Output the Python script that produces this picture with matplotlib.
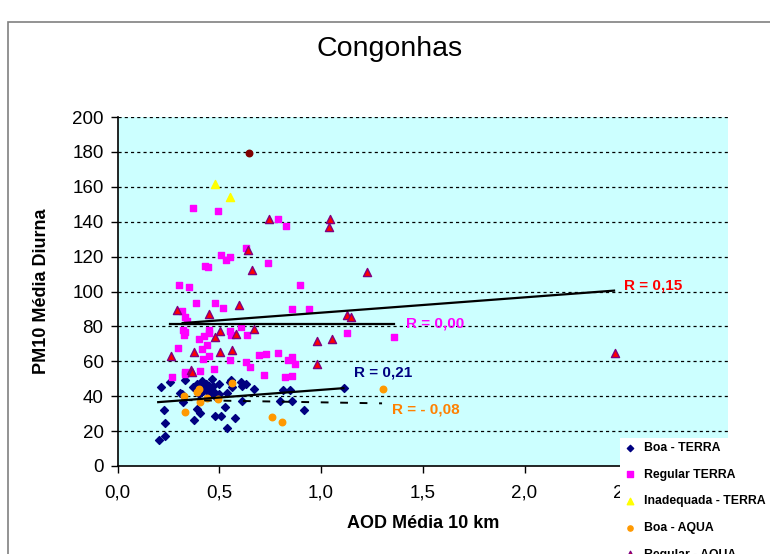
import matplotlib
matplotlib.use('Agg')
import matplotlib.pyplot as plt
from matplotlib.patches import Rectangle

plt.rcParams['font.family'] = ['Liberation Sans', 'DejaVu Sans']

# Boa - TERRA
boa_terra_x = [0.216, 0.257, 0.333, 0.377, 0.413, 0.466, 0.433, 0.451, 0.467, 0.498,
               0.559, 0.564, 0.605, 0.613, 0.630, 0.669, 0.305, 0.320, 0.536, 0.482,
               0.448, 0.421, 0.400, 0.815, 0.848, 1.113, 0.797, 0.857, 0.613, 0.230,
               0.392, 0.403, 0.526, 0.477, 0.511, 0.575, 0.375, 0.915, 0.234, 0.536,
               0.234, 0.202, 0.437, 0.372, 0.555, 0.315, 0.453, 0.486, 0.44, 0.47,
               0.42, 0.50, 0.39]
boa_terra_y = [45.5, 48.4, 49.0, 45.4, 48.8, 50.1, 46.9, 45.6, 45.6, 46.9,
               49.0, 45.0, 48.0, 45.9, 46.9, 44.4, 41.7, 36.9, 42.1, 39.8,
               41.9, 43.1, 41.0, 43.6, 43.3, 44.6, 37.3, 37.3, 37.1, 32.3,
               32.5, 30.2, 33.7, 28.5, 28.9, 27.4, 26.2, 32.3, 24.9, 22.0,
               17.2, 14.7, 47.0, 45.4, 48.1, 41.3, 41.7, 39.4, 44.0, 43.0,
               47.0, 41.0, 47.0]

# Regular TERRA
reg_terra_x = [0.372, 0.494, 0.787, 0.829, 0.633, 0.507, 0.551, 0.532, 0.431, 0.447,
               0.738, 0.301, 0.350, 0.895, 0.384, 0.480, 0.518, 0.318, 0.331, 0.343,
               0.859, 0.939, 0.320, 0.331, 0.326, 0.448, 0.448, 0.426, 0.400, 0.552,
               0.557, 0.605, 0.638, 0.297, 0.438, 0.416, 0.421, 0.448, 0.551, 0.633,
               0.649, 0.697, 0.730, 0.789, 0.838, 0.859, 0.870, 0.718, 0.821, 0.859,
               0.475, 0.405, 0.333, 0.333, 0.269, 1.126, 1.359]
reg_terra_y = [147.8, 146.0, 141.5, 137.7, 125.1, 120.7, 119.6, 118.1, 114.6, 113.9,
               116.3, 103.7, 102.6, 103.7, 93.6, 93.2, 90.7, 88.6, 85.2, 83.3,
               90.1, 90.0, 77.7, 76.7, 74.8, 78.1, 76.2, 74.3, 72.9, 77.5,
               75.0, 79.8, 74.8, 67.9, 69.3, 67.2, 61.6, 63.0, 60.5, 59.7,
               56.7, 63.5, 64.3, 64.9, 60.9, 62.2, 58.6, 52.4, 50.9, 51.5,
               55.5, 54.2, 54.0, 52.8, 50.9, 76.2, 74.1]

# Inadequada - TERRA
inad_terra_x = [0.480, 0.555]
inad_terra_y = [161.4, 154.3]

# Boa - AQUA
boa_aqua_x = [0.326, 0.400, 0.392, 0.405, 0.438, 0.495, 0.562, 0.330, 0.757, 0.810, 1.303]
boa_aqua_y = [40.2, 44.0, 42.3, 36.9, 38.9, 38.3, 47.5, 30.8, 27.8, 25.1, 44.0]

# Regular - AQUA
reg_aqua_x = [0.744, 1.043, 1.038, 0.643, 0.663, 1.228, 0.290, 0.449, 0.595, 0.503,
              0.584, 0.670, 0.477, 0.377, 0.505, 0.564, 0.261, 0.361, 0.364, 0.979,
              1.054, 0.980, 1.126, 1.146, 2.444]
reg_aqua_y = [141.4, 141.4, 136.8, 123.8, 112.1, 111.3, 89.6, 87.1, 92.1, 77.5,
              75.8, 78.7, 73.9, 65.1, 65.1, 66.2, 62.8, 54.9, 53.8, 71.4,
              72.7, 58.2, 86.7, 85.4, 64.9]

# Inadequada - AQUA
inad_aqua_x = [0.646]
inad_aqua_y = [179.2]

# linhas de tendencia (extremos)
trend_boa_terra = ([0.20, 1.11], [36.6, 44.6])
trend_reg_terra = ([0.26, 1.36], [81.5, 81.5])
trend_boa_aqua = ([0.33, 1.30], [37.8, 35.9])
trend_reg_aqua = ([0.32, 2.44], [81.9, 100.5])

r_labels = ['R = 0,15', 'R = 0,00', 'R = 0,21', 'R = - 0,08']
r_pos = [(2.488, 103.2), (1.419, 81.4), (1.164, 53.3), (1.350, 32.1)]
r_colors = ['#FF0000', '#FF00FF', '#000080', '#FF8000']

x_ticks = [0.0, 0.5, 1.0, 1.5, 2.0, 2.5, 3.0]
x_tick_labels = ['0,0', '0,5', '1,0', '1,5', '2,0', '2,5', '']  # 3,0 fica sob a legenda
y_ticks = [0, 20, 40, 60, 80, 100, 120, 140, 160, 180, 200]

W, H = 770, 554
fig = plt.figure(figsize=(W / 100, H / 100), dpi=100)
fig.patch.set_facecolor('white')
fig.patches.append(Rectangle((8 / W, 0 - 0.1), 1.2, 1 - 22 / H + 0.1,
                             transform=fig.transFigure, fill=False,
                             edgecolor='#808080', linewidth=1.2))

ax = fig.add_axes([117.5 / W, (H - 466) / H, (728 - 117.5) / W, (466 - 117) / H])
ax.set_facecolor('#CCFFFF')
ax.set_xlim(0, 3.0)
ax.set_ylim(0, 200)

for yv in y_ticks[1:]:
    ax.axhline(yv, color='black', linewidth=0.9, dashes=(2.5, 2.5), zorder=1)

ax.scatter(boa_terra_x, boa_terra_y, marker='D', s=16, color='#000080', label='Boa - TERRA', zorder=3)
ax.scatter(reg_terra_x, reg_terra_y, marker='s', s=22, color='#FF00FF', label='Regular TERRA', zorder=3)
ax.scatter(inad_terra_x, inad_terra_y, marker='^', s=34, color='#FFFF00', label='Inadequada - TERRA', zorder=3)
ax.scatter(boa_aqua_x, boa_aqua_y, marker='o', s=22, color='#FF9900', label='Boa - AQUA', zorder=3)
ax.scatter(reg_aqua_x, reg_aqua_y, marker='^', s=34, facecolor='#FF0000', edgecolor='#800080',
           linewidth=1, label='Regular - AQUA', zorder=3)
ax.scatter(inad_aqua_x, inad_aqua_y, marker='o', s=22, color='#800000', label='Inadequada - AQUA', zorder=3)

ax.plot(*trend_boa_terra, color='black', linewidth=1.6, zorder=4)
ax.plot(*trend_reg_terra, color='black', linewidth=1.6, zorder=4)
ax.plot(*trend_boa_aqua, color='black', linewidth=1.4, dashes=(4, 6), zorder=4)
ax.plot(*trend_reg_aqua, color='black', linewidth=1.6, zorder=4)

for txt, (tx, ty), c in zip(r_labels, r_pos, r_colors):
    ax.text(tx, ty, txt, color=c, fontsize=11, fontweight='bold', va='center', ha='left', zorder=5)

ax.spines['top'].set_visible(False)
ax.spines['right'].set_visible(False)
ax.spines['left'].set_linewidth(1.2)
ax.spines['bottom'].set_linewidth(1.2)
ax.set_xticks(x_ticks)
ax.set_xticklabels(x_tick_labels)
ax.set_yticks(y_ticks)
ax.tick_params(axis='both', labelsize=13.5, direction='out', length=5, width=1)
ax.tick_params(axis='x', pad=8)
ax.tick_params(axis='y', pad=5)

ax.set_xlabel('AOD Média 10 km', fontsize=13, fontweight='bold')
ax.set_ylabel('PM10 Média Diurna', fontsize=13, fontweight='bold')
ax.xaxis.set_label_coords(0.5, (466 - 524) / 349)
ax.xaxis.label.set_va('center')
ax.yaxis.set_label_coords((42 - 117.5) / 610.5, 0.5)
ax.yaxis.label.set_va('center')
fig.text(390 / W, 1 - 49 / H, 'Congonhas', fontsize=20.5, ha='center', va='center')

# fundo branco da legenda a partir de (620, 438)
fig.patches.append(Rectangle((620 / W, -0.1), 0.5, 0.1 + (H - 438) / H,
                             transform=fig.transFigure, facecolor='white',
                             edgecolor='none', zorder=4))
fig.legend(loc='upper left', bbox_to_anchor=(620 / W, 1 - 442 / H), frameon=False,
           prop={'size': 8.8, 'weight': 'bold'}, labelspacing=1.2, handletextpad=0.4,
           borderpad=0.0, borderaxespad=0.0, handlelength=1.6, markerscale=0.8)

fig.savefig('out.png', dpi=100)
